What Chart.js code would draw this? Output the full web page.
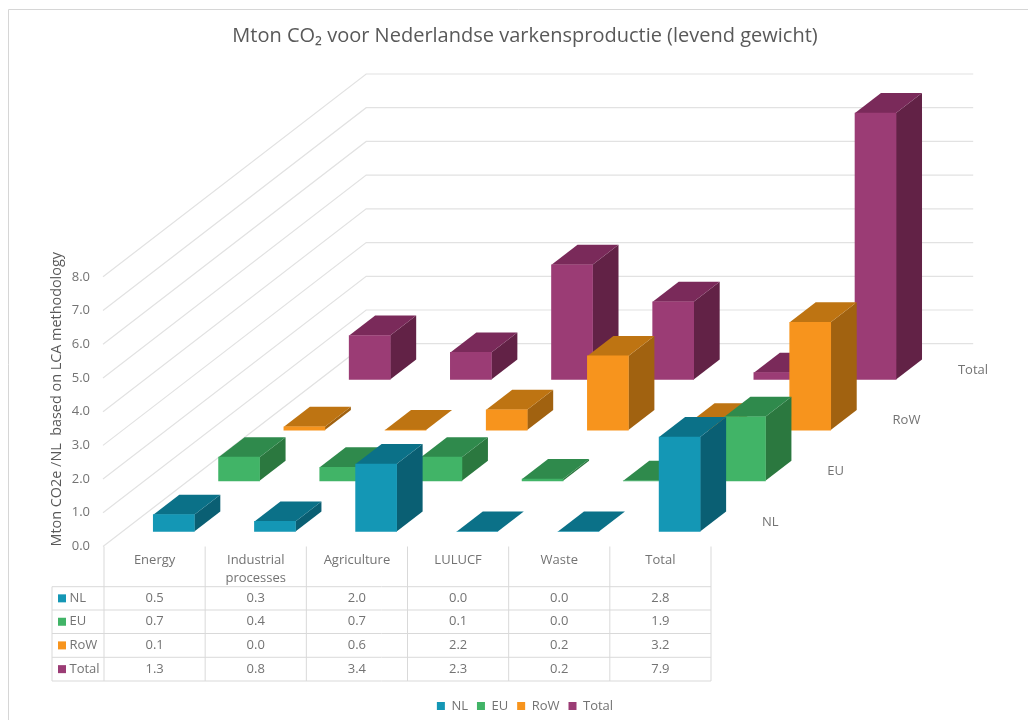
<!DOCTYPE html>
<html>
<head>
<meta charset="utf-8">
<title>Mton CO2 varkensproductie</title>
<script src="https://cdn.jsdelivr.net/npm/chart.js@4"></script>
<style>
    html, body { margin: 0; padding: 0; background: #fff; }
    canvas { display: block; }
</style>
</head>
<body>
<canvas id="chart" width="1028" height="720"></canvas>
<script>
// --- Data ---
// (EU LULUCF prints as 0.1 but its bar is nearly flat in the picture)
const categories = ['Energy', ['Industrial', 'processes'], 'Agriculture', 'LULUCF', 'Waste', 'Total'];
const seriesNames = ['NL', 'EU', 'RoW', 'Total'];
const nlValues = [0.5, 0.3, 2.0, 0.0, 0.0, 2.8];
const euValues = [0.7, 0.4, 0.7, 0.05, 0.0, 1.9];
const rowValues = [0.1, 0.0, 0.6, 2.2, 0.2, 3.2];
const totalValues = [1.3, 0.8, 3.4, 2.3, 0.2, 7.9];
const yTicks = [0, 1, 2, 3, 4, 5, 6, 7, 8];

const frontColors = ['#1497b5', '#41b467', '#f7941d', '#9b3c75'];
const topColors = ['#0b7188', '#2f8a4c', '#be7412', '#7a2a5a'];
const sideColors = ['#0a5f73', '#2b783f', '#a16210', '#622246'];

const textColor = '#737373';
const lineColor = '#d9d9d9';
const fontFamily = '"Open Sans", sans-serif';

// Oblique projection of the 3D look
const rowShiftX = 65.3, rowShiftY = -50.7;   // one series row further back
const barDepthX = 26, barDepthY = -20;       // depth of a single bar
const firstRowX = 19.2, firstRowY = -15;     // front row sits inside the floor

const rowOffset = row => ({
    x: firstRowX + rowShiftX * row,
    y: firstRowY + rowShiftY * row
});

function fillPoly(ctx, color, pts) {
    ctx.fillStyle = color;
    ctx.beginPath();
    pts.forEach((p, i) => i ? ctx.lineTo(p[0], p[1]) : ctx.moveTo(p[0], p[1]));
    ctx.closePath();
    ctx.fill();
}

// Outer frame and the back walls, drawn from the y scale ticks
const wallsPlugin = {
    id: 'walls',
    beforeDatasetsDraw(chart) {
        const { ctx, scales: { x, y } } = chart;
        const depthX = rowShiftX * 4 + 1, depthY = rowShiftY * 4;

        ctx.save();
        ctx.strokeStyle = '#d6d6d6';
        ctx.lineWidth = 1;
        ctx.beginPath();
        ctx.moveTo(8.5, 720);
        ctx.lineTo(8.5, 9.5);
        ctx.lineTo(1028, 9.5);
        ctx.stroke();

        ctx.strokeStyle = '#e2e2e2';
        ctx.lineWidth = 1.2;
        yTicks.forEach(t => {
            const py = y.getPixelForValue(t);
            ctx.beginPath();
            ctx.moveTo(x.left - 1, py);
            ctx.lineTo(x.left + depthX, py + depthY);
            ctx.lineTo(x.right + depthX, py + depthY);
            ctx.stroke();
        });
        ctx.restore();
    }
};

// Each dataset is one row of bars: shift it back and add top and side faces
const bars3dPlugin = {
    id: 'bars3d',
    beforeDatasetDraw(chart, args) {
        const { ctx } = chart;
        const row = args.index;
        const off = rowOffset(row);
        ctx.save();
        ctx.translate(off.x, off.y);
        args.meta.data.forEach(bar => {
            const l = bar.x - bar.width / 2, r = bar.x + bar.width / 2;
            const t = bar.y, b = bar.base;
            fillPoly(ctx, sideColors[row], [[r, t], [r + barDepthX, t + barDepthY], [r + barDepthX, b + barDepthY], [r, b]]);
            fillPoly(ctx, topColors[row], [[l, t], [l + barDepthX, t + barDepthY], [r + barDepthX, t + barDepthY], [r, t]]);
        });
    },
    afterDatasetDraw(chart) {
        chart.ctx.restore();
    }
};

// Row names on the floor and the data table under the plot
const tablePlugin = {
    id: 'dataTable',
    afterDraw(chart) {
        const { ctx, scales: { x, y } } = chart;
        const rowLines = [586.7, 610, 633.5, 657.3, 681];
        const tableLeft = 52;
        const allValues = [nlValues, euValues, rowValues, totalValues];
        const floor = y.getPixelForValue(0);

        ctx.save();
        ctx.font = '13px ' + fontFamily;
        ctx.fillStyle = textColor;
        ctx.textBaseline = 'middle';

        ctx.textAlign = 'left';
        seriesNames.forEach((name, row) => {
            ctx.fillText(name, x.right + 51 + rowShiftX * row, floor - 24.5 + rowShiftY * row);
        });

        ctx.strokeStyle = lineColor;
        ctx.lineWidth = 1;
        ctx.beginPath();
        rowLines.forEach(ly => {
            ctx.moveTo(tableLeft, ly);
            ctx.lineTo(x.right, ly);
        });
        ctx.moveTo(tableLeft, rowLines[0]);
        ctx.lineTo(tableLeft, rowLines[4]);
        const band = (x.right - x.left) / categories.length;
        categories.forEach((_, i) => {
            ctx.moveTo(x.left + band * i, floor);
            ctx.lineTo(x.left + band * i, rowLines[4]);
        });
        ctx.moveTo(x.right, floor);
        ctx.lineTo(x.right, rowLines[4]);
        ctx.stroke();

        allValues.forEach((values, row) => {
            const cy = (rowLines[row] + rowLines[row + 1]) / 2;
            ctx.fillStyle = frontColors[row];
            ctx.fillRect(58, cy - 4, 8, 8);
            ctx.fillStyle = textColor;
            ctx.textAlign = 'left';
            ctx.fillText(seriesNames[row], 69.5, cy);
            ctx.textAlign = 'center';
            values.forEach((v, i) => ctx.fillText(v.toFixed(1), x.getPixelForTick(i), cy));
        });
        ctx.restore();
    }
};

document.addEventListener('DOMContentLoaded', () => {
    const ctx = document.getElementById('chart').getContext('2d');

    new Chart(ctx, {
        type: 'bar',
        data: {
            labels: categories,
            datasets: [nlValues, euValues, rowValues, totalValues].map((values, row) => ({
                label: seriesNames[row],
                data: values,
                backgroundColor: frontColors[row],
                borderWidth: 0,
                grouped: false,
                barThickness: 41,
                clip: false
            }))
        },
        options: {
            responsive: false,
            animation: false,
            layout: { padding: { left: 22, right: 0, top: 0, bottom: -2.5 } },
            plugins: {
                title: {
                    display: true,
                    text: 'Mton CO₂ voor Nederlandse varkensproductie (levend gewicht)',
                    color: '#595959',
                    font: { family: fontFamily, size: 20, weight: 'normal' },
                    padding: { top: 24.5, bottom: 228.3 }
                },
                legend: {
                    position: 'bottom',
                    labels: {
                        color: textColor,
                        font: { family: fontFamily, size: 13 },
                        boxWidth: 8,
                        boxHeight: 8,
                        padding: 9
                    }
                },
                tooltip: { enabled: false }
            },
            scales: {
                x: {
                    offset: true,
                    grid: { display: false, drawTicks: false },
                    border: { display: false },
                    ticks: {
                        color: textColor,
                        font: { family: fontFamily, size: 13, lineHeight: 1.4 },
                        padding: 4.5,
                        maxRotation: 0,
                        autoSkip: false
                    },
                    afterFit: scale => { scale.height = 144; }
                },
                y: {
                    min: 0,
                    max: 8,
                    grid: { display: false, drawTicks: false },
                    border: { display: false },
                    afterBuildTicks: scale => { scale.ticks = yTicks.map(value => ({ value })); },
                    ticks: {
                        color: textColor,
                        font: { family: fontFamily, size: 13 },
                        padding: 14,
                        callback: v => v.toFixed(1)
                    },
                    title: {
                        display: true,
                        text: 'Mton CO2e /NL  based on LCA methodology',
                        color: '#595959',
                        align: 'start',
                        font: { family: fontFamily, size: 14.4 },
                        padding: { top: 26, bottom: 0 }
                    },
                    afterFit: scale => { scale.width = 82; }
                },
                // empty right-hand axis: keeps the plot on the left while the
                // title and legend stay centred over the whole page
                spacer: {
                    position: 'right',
                    grid: { display: false },
                    border: { display: false },
                    ticks: { display: false },
                    afterFit: scale => { scale.width = 317; }
                }
            }
        },
        plugins: [wallsPlugin, bars3dPlugin, tablePlugin]
    });
});
</script>
</body>
</html>
